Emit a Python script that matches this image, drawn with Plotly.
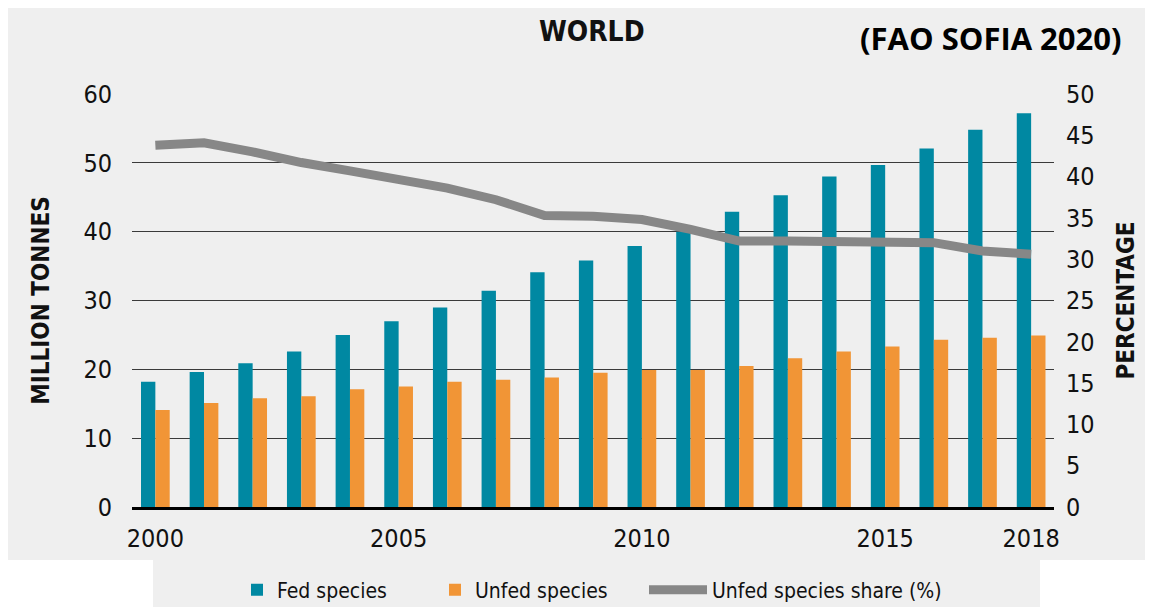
import plotly.graph_objects as go

# ---- data ----
years = list(range(2000, 2019))
fed_species = [18.2, 19.6, 20.9, 22.6, 25.0, 27.0, 29.0, 31.4, 34.1, 35.8,
               37.9, 40.0, 42.9, 45.3, 48.0, 49.7, 52.1, 54.8, 57.2]
unfed_species = [14.1, 15.1, 15.8, 16.1, 17.1, 17.5, 18.2, 18.5, 18.8, 19.5,
                 19.9, 19.9, 20.5, 21.6, 22.6, 23.3, 24.3, 24.6, 24.9]
unfed_share = [43.8, 44.1, 43.0, 41.7, 40.7, 39.7, 38.6, 37.2, 35.3, 35.2,
               34.8, 33.6, 32.2, 32.2, 32.1, 31.9, 32.0, 31.0, 30.6]
x_tick_vals = [2000, 2005, 2010, 2015, 2018]
left_ticks = [0, 10, 20, 30, 40, 50, 60]
right_ticks = [0, 5, 10, 15, 20, 25, 30, 35, 40, 45, 50]

# ---- layout geometry (reference pixel positions, page has an 8px body margin) ----
OFF = 8
W, H = 1153 - OFF, 607 - OFF
PLOT_LEFT, PLOT_RIGHT, PLOT_TOP, PLOT_BOTTOM = 132, 1054, 94, 507
L = PLOT_LEFT - OFF
T = PLOT_TOP - OFF
R = W - (PLOT_RIGHT - OFF)
B = H - (PLOT_BOTTOM - OFF)
PW, PH = W - L - R, H - T - B

TEAL = "#0088a2"
ORANGE = "#f19536"
GREY_LINE = "#878787"
BG = "#efefef"
COND = "DejaVu Sans Condensed, Roboto, sans-serif"


def px_x(p):
    """reference screen x -> paper x"""
    return (p - OFF - L) / PW


def px_y(p):
    """reference screen y -> paper y"""
    return (H - B - (p - OFF)) / PH


fig = go.Figure()
fig.add_trace(go.Bar(x=years, y=fed_species, name="Fed species",
                     marker=dict(color=TEAL, line=dict(width=0)),
                     legend="legend"))
fig.add_trace(go.Bar(x=years, y=unfed_species, name="Unfed species",
                     marker=dict(color=ORANGE, line=dict(width=0)),
                     legend="legend2"))
fig.add_trace(go.Scatter(x=years, y=unfed_share, name="Unfed species share (%)",
                         mode="lines", yaxis="y2",
                         line=dict(color=GREY_LINE, width=9),
                         legend="legend3"))

shapes = [
    dict(type="rect", xref="paper", yref="paper", layer="below",
         x0=px_x(8), x1=px_x(1160), y0=px_y(560), y1=px_y(0),
         fillcolor=BG, line=dict(width=0)),
    dict(type="rect", xref="paper", yref="paper", layer="below",
         x0=px_x(153), x1=px_x(1040), y0=px_y(620), y1=px_y(560),
         fillcolor=BG, line=dict(width=0)),
]

annotations = [
    dict(text="<b>WORLD</b>", xref="paper", yref="paper",
         x=px_x(592), y=px_y(32), xanchor="center", yanchor="middle",
         showarrow=False,
         font=dict(family=COND, size=28, color="#111111")),
    dict(text="<b>(FAO SOFIA 2020)</b>", xref="paper", yref="paper",
         x=px_x(991), y=px_y(38), xanchor="center", yanchor="middle",
         showarrow=False,
         font=dict(family="Open Sans, Noto Sans, sans-serif", size=31, color="#000000")),
]

legend_common = dict(orientation="h", bgcolor="rgba(0,0,0,0)",
                     font=dict(family=COND, size=21, color="#111111"),
                     yanchor="middle", xanchor="left", y=px_y(590))

fig.update_layout(
    width=W, height=H,
    margin=dict(l=L, r=R, t=T, b=B, autoexpand=False),
    paper_bgcolor="white", plot_bgcolor="rgba(0,0,0,0)",
    barmode="group", bargap=0.41, bargroupgap=0,
    showlegend=True,
    legend=dict(legend_common, x=px_x(237)),
    legend2=dict(legend_common, x=px_x(435)),
    legend3=dict(legend_common, x=px_x(644), itemwidth=58),
    xaxis=dict(range=[1999.52, 2018.47], tickmode="array", tickvals=x_tick_vals,
               ticktext=[str(v) for v in x_tick_vals],
               showgrid=False, zeroline=False,
               showline=True, linecolor="black", linewidth=3,
               ticks="", ticklabelstandoff=7,
               tickfont=dict(family=COND, size=25, color="#111111"),
               automargin=False),
    yaxis=dict(range=[0, 60], tickmode="array", tickvals=left_ticks,
               showgrid=True, gridcolor="#3a3a3a", gridwidth=1,
               zeroline=False, showline=False, ticks="",
               ticklabelstandoff=19,
               tickfont=dict(family=COND, size=25, color="#111111"),
               title=dict(text="<b>MILLION TONNES</b>", standoff=26,
                          font=dict(family=COND, size=24, color="#111111")),
               automargin=False),
    yaxis2=dict(range=[0, 50], tickmode="array", tickvals=right_ticks,
                overlaying="y", side="right",
                showgrid=False, zeroline=False, showline=False, ticks="",
                ticklabelstandoff=11,
                tickfont=dict(family=COND, size=25, color="#111111"),
                title=dict(text="<b>PERCENTAGE</b>", standoff=23,
                           font=dict(family=COND, size=24, color="#111111")),
                automargin=False),
    shapes=shapes,
    annotations=annotations,
)

fig.write_html("out.html")
